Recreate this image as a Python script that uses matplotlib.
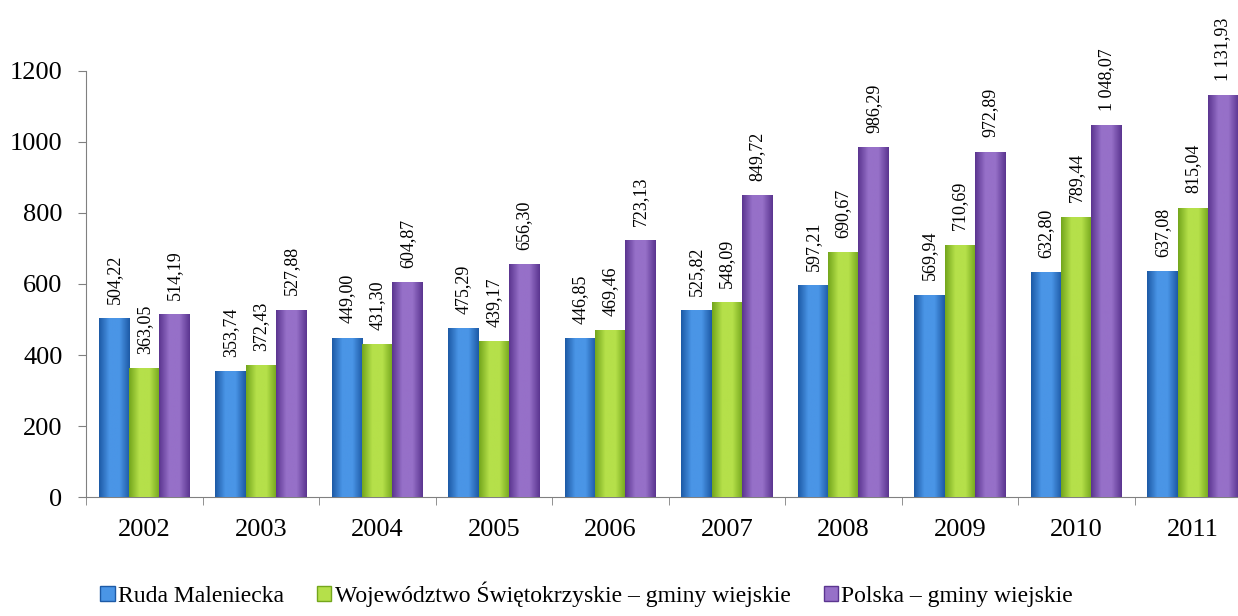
import matplotlib.pyplot as plt
import numpy as np
from matplotlib.colors import LinearSegmentedColormap
from matplotlib.patches import Patch

years = ['2002', '2003', '2004', '2005', '2006', '2007', '2008', '2009', '2010', '2011']
ruda = [504.22, 353.74, 449.00, 475.29, 446.85, 525.82, 597.21, 569.94, 632.80, 637.08]
woj = [363.05, 372.43, 431.30, 439.17, 469.46, 548.09, 690.67, 710.69, 789.44, 815.04]
polska = [514.19, 527.88, 604.87, 656.30, 723.13, 849.72, 986.29, 972.89, 1048.07, 1131.93]
series_names = ['Ruda Maleniecka', 'Województwo Świętokrzyskie – gminy wiejskie',
                'Polska – gminy wiejskie']

# (edge, centre) colours for the shaded bars
shades = [('#1d5aa6', '#4a95e6'), ('#74a61c', '#b5e04a'), ('#5b3590', '#9670c8')]


def fmt(v):
    return f'{v:,.2f}'.replace(',', ' ').replace('.', ',')


def main():
    plt.rcParams['font.family'] = ['Liberation Serif', 'DejaVu Serif']
    fig = plt.figure(figsize=(12.38, 6.16), dpi=100)
    ax = fig.add_axes([0.0695, 0.193, 0.941, 0.692])

    x = np.arange(len(years))
    w = 0.26
    grad = np.linspace(0, 1, 64).reshape(1, -1)
    for i, vals in enumerate([ruda, woj, polska]):
        edge, mid = shades[i]
        cmap = LinearSegmentedColormap.from_list('c', [edge, mid, mid, edge])
        bars = ax.bar(x + (i - 1) * w, vals, w, color=mid, zorder=2)
        for b, v in zip(bars, vals):
            x0 = b.get_x()
            im = ax.imshow(grad, extent=[x0, x0 + w, 0, v], aspect='auto',
                           cmap=cmap, zorder=3)
            im.set_clip_path(b)
            ax.text(x0 + w / 2, v + 40, fmt(v), rotation=90, ha='center',
                    va='bottom', fontsize=13, clip_on=False)

    ax.set_xlim(-0.5, len(years) - 0.5)
    ax.set_ylim(0, 1200)
    ax.set_yticks(range(0, 1201, 200))
    ax.set_xticks(x)
    ax.set_xticklabels(years)
    ax.set_xticks(np.arange(-0.5, len(years)), minor=True)
    ax.tick_params(axis='x', which='major', length=0, pad=16, labelsize=19)
    ax.tick_params(axis='x', which='minor', length=6, color='#808080')
    ax.tick_params(axis='y', length=6, color='#808080', labelsize=19, pad=11)
    for s in ['top', 'right']:
        ax.spines[s].set_visible(False)
    for s in ['left', 'bottom']:
        ax.spines[s].set_color('#808080')

    handles = [Patch(facecolor=shades[i][1], edgecolor=shades[i][0]) for i in range(3)]
    fig.legend(handles, series_names, loc='lower center', ncol=3, frameon=False,
               fontsize=17, handlelength=0.6, handleheight=0.6, handletextpad=0.15,
               columnspacing=1.4, bbox_to_anchor=(0.474, -0.02))

    fig.savefig('out.png', dpi=100)


if __name__ == '__main__':
    main()
